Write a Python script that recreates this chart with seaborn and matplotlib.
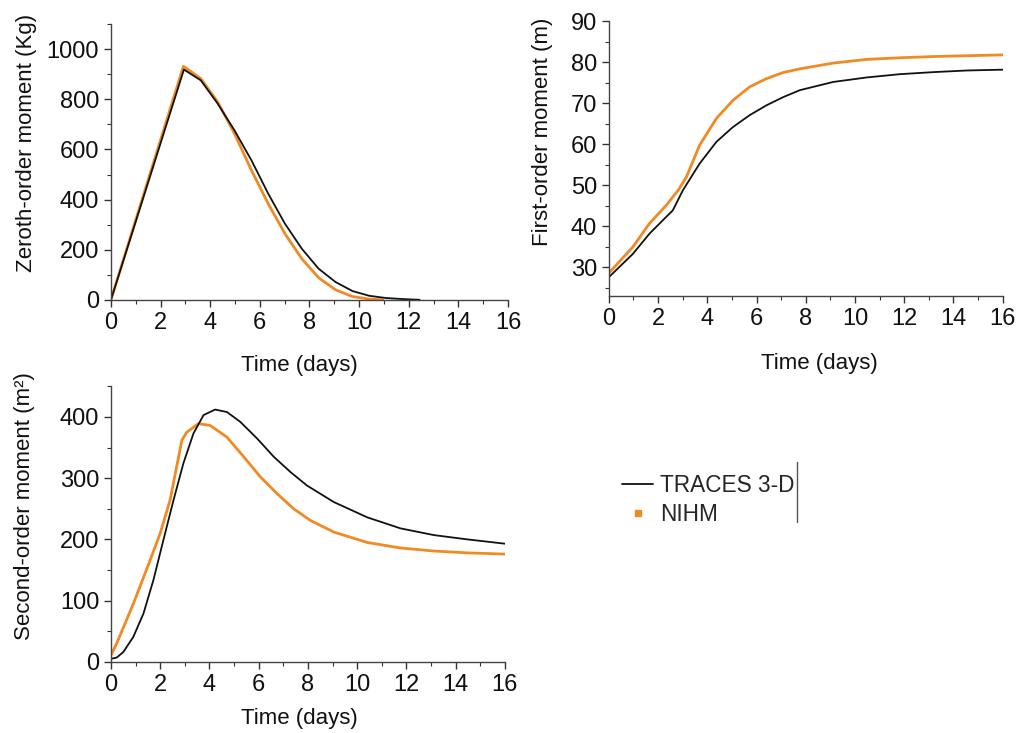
import numpy as np
import pandas as pd
import matplotlib
matplotlib.use("Agg")
import matplotlib.pyplot as plt
import seaborn as sns
from matplotlib.lines import Line2D
from matplotlib.ticker import MultipleLocator

# Momento de orden cero (Kg)
t0_traces = [0, 2.94, 3.62, 4.30, 4.98, 5.66, 6.34, 7.01, 7.69, 8.37, 9.05, 9.73, 10.41, 11.09, 11.76, 12.44]
m0_traces = [0, 919, 876, 783, 676, 557, 423, 304, 204, 124, 71, 35, 16, 7, 3, 0]
t0_nihm = [0, 2.92, 3.62, 4.30, 4.98, 5.66, 6.34, 7.01, 7.69, 8.37, 9.05, 9.73, 10.41, 10.95]
m0_nihm = [0, 932, 883, 790, 663, 517, 383, 264, 164, 88, 40, 13, 3, 0]

# Momento de primer orden (m)
t1_traces = [0, 0.98, 1.65, 2.33, 2.6, 3.01, 3.69, 4.37, 5.04, 5.72, 6.4, 7.08, 7.76, 9.11, 10.47, 11.82, 13.18, 14.54, 16]
m1_traces = [27.6, 33.3, 38.2, 42.3, 43.9, 48.8, 55.3, 60.6, 64.2, 67.1, 69.5, 71.5, 73.2, 75.2, 76.3, 77.1, 77.6, 78.0, 78.2]
t1_nihm = [0, 0.98, 1.65, 2.33, 2.83, 3.15, 3.69, 4.37, 5.04, 5.72, 6.4, 7.08, 7.76, 9.11, 10.47, 11.82, 13.18, 14.54, 16]
m1_nihm = [28.6, 35.0, 40.7, 45.1, 48.9, 52.0, 59.8, 66.3, 70.7, 74.0, 76.0, 77.5, 78.4, 79.8, 80.7, 81.1, 81.4, 81.6, 81.8]

# Momento de segundo orden (m2)
t2_traces = [0, 0.23, 0.5, 0.91, 1.32, 1.72, 2.13, 2.54, 2.94, 3.35, 3.76, 4.23, 4.71, 5.25, 5.93, 6.61,
             7.29, 7.96, 9.05, 10.41, 11.76, 13.12, 14.48, 16]
m2_traces = [5, 7, 16, 41, 79, 133, 199, 264, 324, 373, 403, 412, 408, 392, 365, 335,
             310, 288, 261, 236, 218, 207, 200, 193]
t2_nihm = [0, 0.23, 0.91, 1.59, 2.0, 2.4, 2.88, 3.08, 3.55, 4.03, 4.71, 5.39, 6.07, 6.74, 7.42, 8.1,
           9.05, 10.41, 11.76, 13.12, 14.48, 16]
m2_nihm = [11, 30, 95, 166, 210, 264, 362, 375, 389, 386, 367, 335, 302, 275, 250, 231,
           212, 195, 186, 181, 178, 176]

negro = "#111111"
naranja = "#f08a24"

sns.set_style("ticks")
plt.rcParams['font.family'] = ['Liberation Sans', 'DejaVu Sans']
plt.rcParams['xtick.direction'] = 'out'
plt.rcParams['ytick.direction'] = 'out'

fig = plt.figure(figsize=(10.18, 7.33), dpi=100)
ax1 = fig.add_axes([0.109, 0.591, 0.390, 0.376])
ax2 = fig.add_axes([0.598, 0.596, 0.387, 0.375])
ax3 = fig.add_axes([0.109, 0.097, 0.387, 0.376])

# (eje, datos..., etiqueta, ylim, paso, posicion xlabel, posicion ylabel)
paneles = [
    (ax1, t0_traces, m0_traces, t0_nihm, m0_nihm, 'Zeroth-order moment (Kg)', (0, 1100), 200,
     (0.475, -0.199), (-0.186, 0.569)),
    (ax2, t1_traces, m1_traces, t1_nihm, m1_nihm, 'First-order moment (m)', (23, 90), 10,
     (0.534, -0.207), (-0.142, 0.596)),
    (ax3, t2_traces, m2_traces, t2_nihm, m2_nihm, 'Second-order moment (m²)', (0, 450), 100,
     (0.478, -0.167), (-0.193, 0.565)),
]

for ax, tt, yt, tn, yn, etiqueta, ylim, paso, pos_x, pos_y in paneles:
    ax.patch.set_alpha(0)
    sns.lineplot(x=tn, y=yn, ax=ax, color=naranja, lw=2.0, sort=False)
    sns.lineplot(x=tt, y=yt, ax=ax, color=negro, lw=1.3, sort=False)
    ax.set_xlim(0, 16)
    ax.set_ylim(*ylim)
    ax.xaxis.set_major_locator(MultipleLocator(2))
    ax.xaxis.set_minor_locator(MultipleLocator(1))
    ax.yaxis.set_major_locator(MultipleLocator(paso))
    ax.yaxis.set_minor_locator(MultipleLocator(paso / 2))
    ax.tick_params(which='major', length=5, width=1, labelsize=17, colors='#333333', labelcolor='#111111')
    ax.tick_params(which='minor', length=3, width=0.8, colors='#333333')
    ax.set_xlabel('Time (days)', fontsize=16, color='#111111')
    ax.set_ylabel(etiqueta, fontsize=16, color='#111111')
    ax.xaxis.set_label_coords(*pos_x)
    ax.yaxis.set_label_coords(*pos_y)
    for lado in ['top', 'right']:
        ax.spines[lado].set_visible(False)
    for lado in ['left', 'bottom']:
        ax.spines[lado].set_color('#444444')
        ax.spines[lado].set_linewidth(1)

ax1.set_yticks([0, 200, 400, 600, 800, 1000])
ax2.set_yticks([30, 40, 50, 60, 70, 80, 90])

# Leyenda
manejadores = [
    Line2D([0], [0], color=negro, lw=1.3),
    Line2D([0], [0], color=naranja, lw=0, marker='s', markersize=5),
]
fig.legend(manejadores, ['TRACES 3-D', 'NIHM'], loc='upper left', bbox_to_anchor=(0.611, 0.353),
           frameon=False, fontsize=16.3, handlelength=1.38, handletextpad=0.3, labelspacing=0.25,
           borderpad=0, borderaxespad=0)
fig.add_artist(Line2D([0.783, 0.783], [0.288, 0.370], transform=fig.transFigure, color='#555555', lw=1))

plt.savefig('out.png', dpi=100)
plt.close()
